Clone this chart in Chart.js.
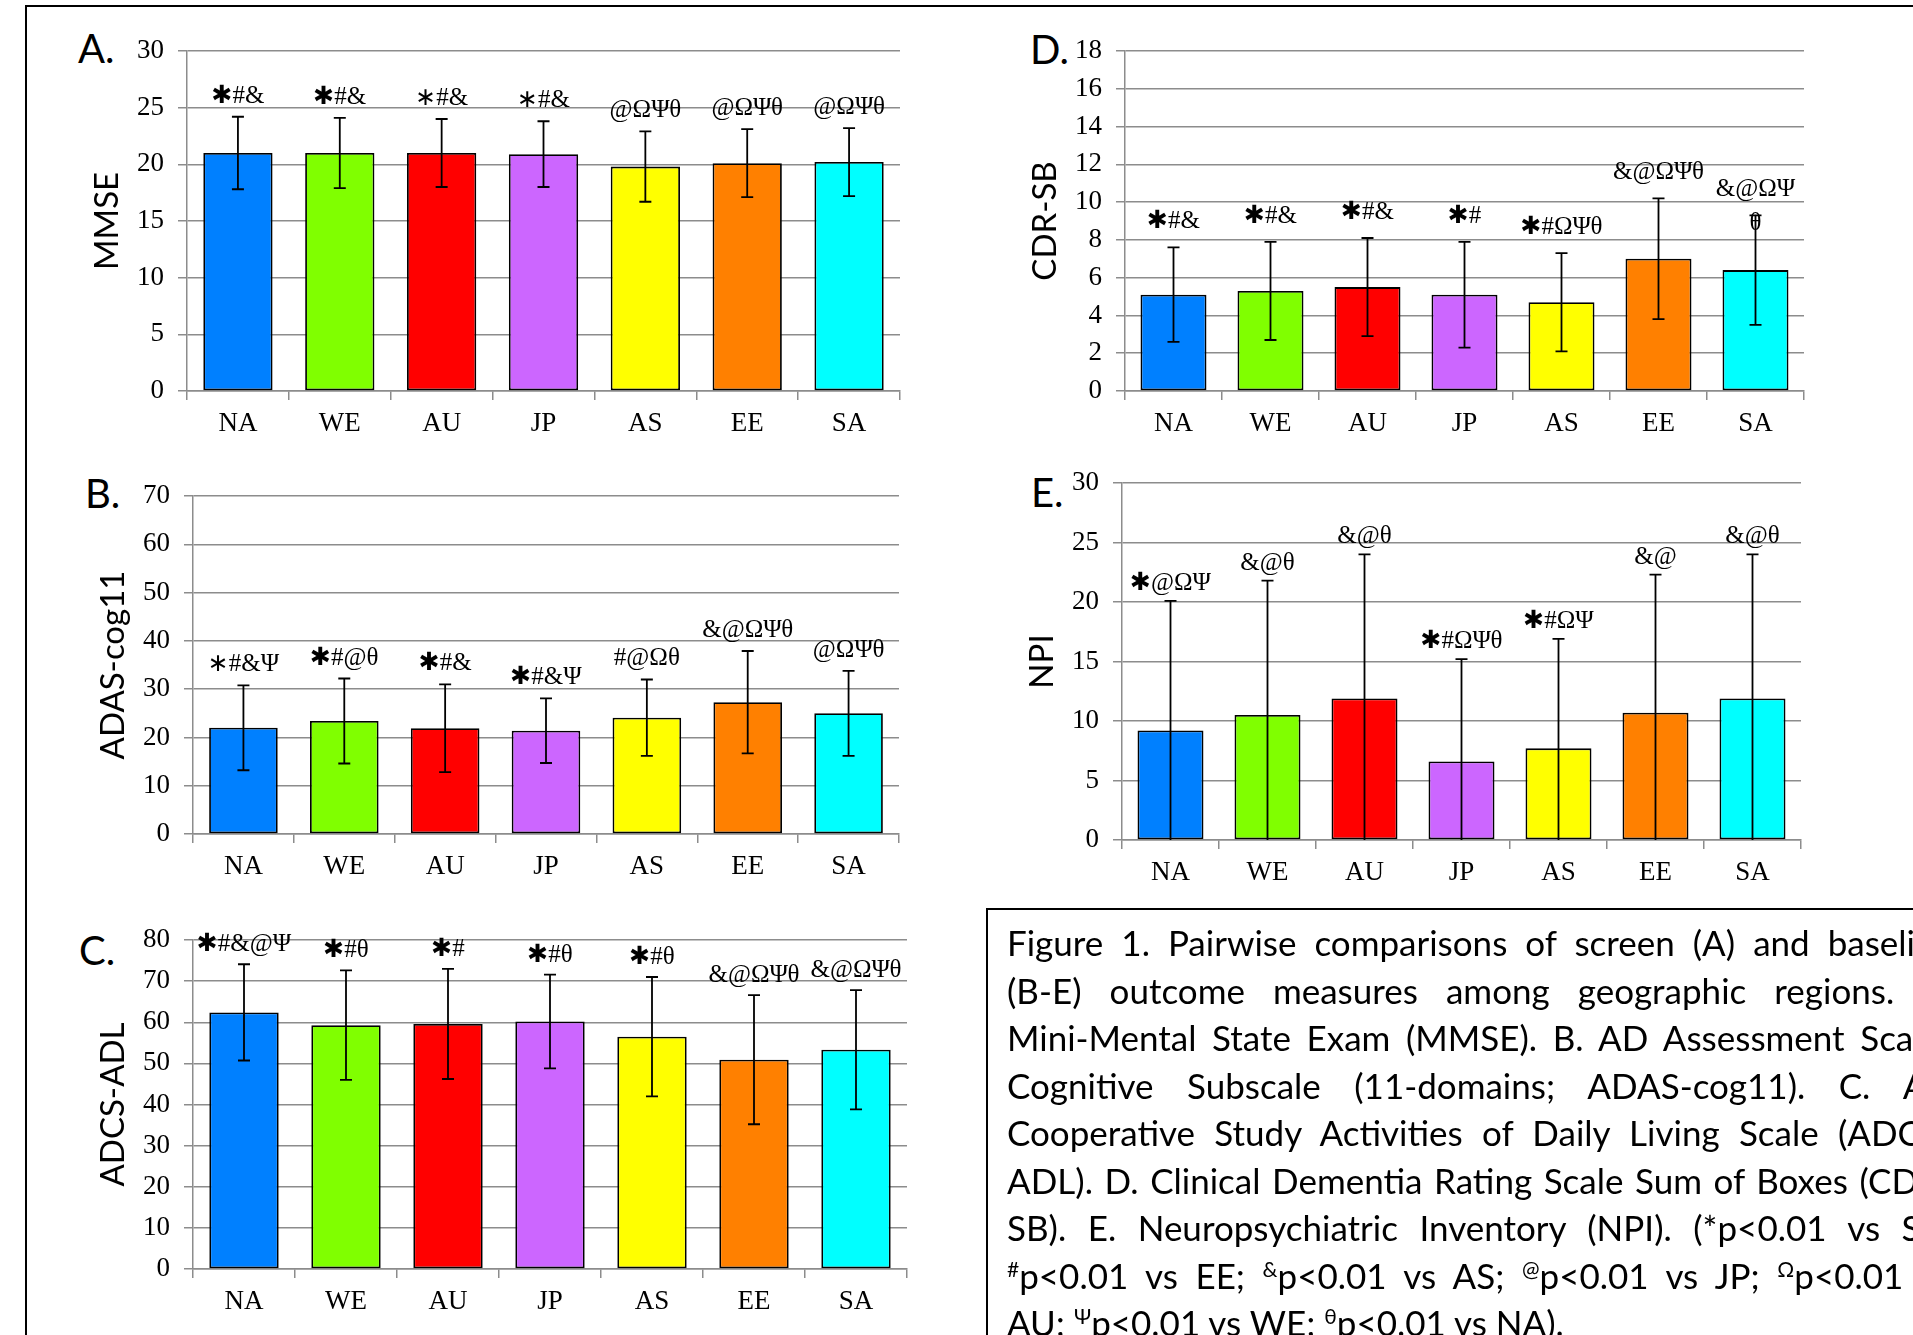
<!DOCTYPE html>
<html lang="en">
<head>
  <meta charset="UTF-8">
  <title>Figure 1 - regional comparisons</title>
  <script src="https://cdn.jsdelivr.net/npm/chart.js"></script>
  <style>
    html, body { margin: 0; padding: 0; background: #fff; }
    body { width: 1913px; height: 1335px; overflow: hidden; position: relative; }
    #frame { position: absolute; left: 25px; top: 5px; width: 3000px; height: 3000px;
             border-top: 2px solid #000; border-left: 2px solid #000; }
    canvas { position: absolute; }
    .plabel { position: absolute; font-family: Lato, "Open Sans", sans-serif; font-size: 40px;
              line-height: 40px; color: #000; }
    #caption { position: absolute; left: 986px; top: 908px; width: 990px; height: 600px;
               border: 2px solid #000; box-sizing: border-box; padding: 9px 0 0 19px;
               font-family: Lato, "Open Sans", sans-serif; font-size: 35px; line-height: 47.5px; color: #000; }
    #caption .ln { width: 946px; height: 47.5px; text-align: justify; text-align-last: justify; }
    #caption .ln.last { text-align-last: left; }
    #caption sup { font-size: 0.6em; vertical-align: 0; position: relative; top: -0.55em; }
  </style>
</head>
<body>
  <div id="frame"></div>

  <div class="plabel" style="left:78px; top:28px;">A.</div>
  <div class="plabel" style="left:85px; top:473px;">B.</div>
  <div class="plabel" style="left:79px; top:930px;">C.</div>
  <div class="plabel" style="left:1030px; top:29px;">D.</div>
  <div class="plabel" style="left:1031px; top:472px;">E.</div>

  <canvas id="chartA"></canvas>
  <canvas id="chartB"></canvas>
  <canvas id="chartC"></canvas>
  <canvas id="chartD"></canvas>
  <canvas id="chartE"></canvas>

  <div id="caption">
    <div class="ln">Figure 1. Pairwise comparisons of screen (A) and baseline</div>
    <div class="ln">(B-E) outcome measures among geographic regions. A.</div>
    <div class="ln">Mini-Mental State Exam (MMSE). B. AD Assessment Scale-</div>
    <div class="ln">Cognitive Subscale (11-domains; ADAS-cog11). C. AD</div>
    <div class="ln">Cooperative Study Activities of Daily Living Scale (ADCS-</div>
    <div class="ln">ADL). D. Clinical Dementia Rating Scale Sum of Boxes (CDR-</div>
    <div class="ln">SB). E. Neuropsychiatric Inventory (NPI). (*p&lt;0.01 vs SA;</div>
    <div class="ln"><sup>#</sup>p&lt;0.01 vs EE; <sup>&amp;</sup>p&lt;0.01 vs AS; <sup>@</sup>p&lt;0.01 vs JP; <sup>Ω</sup>p&lt;0.01 vs</div>
    <div class="ln last">AU; <sup>Ψ</sup>p&lt;0.01 vs WE; <sup>θ</sup>p&lt;0.01 vs NA).</div>
  </div>

  <script>
    // Regions and bar colours (same order in every panel)
    const regions = ['NA', 'WE', 'AU', 'JP', 'AS', 'EE', 'SA'];
    const regionColors = ['#0080ff', '#80ff00', '#ff0000', '#cc66ff', '#ffff00', '#ff8000', '#00ffff'];

    // A. MMSE (mean, SD)
    const mmseMean = [21.0, 21.0, 21.0, 20.9, 19.8, 20.1, 20.2];
    const mmseSD = [3.2, 3.1, 3.0, 2.9, 3.1, 3.0, 3.0];
    const mmseNotes = ['✱#&', '✱#&', '∗#&', '∗#&', '@ΩΨθ', '@ΩΨθ', '@ΩΨθ'];
    const mmseTicks = [0, 5, 10, 15, 20, 25, 30];

    // B. ADAS-cog11
    const adasMean = [22.0, 23.4, 21.9, 21.4, 24.1, 27.3, 25.0];
    const adasSD = [8.8, 8.8, 9.1, 6.7, 7.9, 10.6, 8.8];
    const adasNotes = ['∗#&Ψ', '✱#@θ', '✱#&', '✱#&Ψ', '#@Ωθ', '&@ΩΨθ', '@ΩΨθ'];
    const adasTicks = [0, 10, 20, 30, 40, 50, 60, 70];

    // C. ADCS-ADL
    const adlMean = [62.4, 59.3, 59.6, 60.2, 56.5, 50.9, 53.3];
    const adlSD = [11.7, 13.3, 13.4, 11.4, 14.5, 15.7, 14.5];
    const adlNotes = ['✱#&@Ψ', '✱#θ', '✱#', '✱#θ', '✱#θ', '&@ΩΨθ', '&@ΩΨθ'];
    const adlTicks = [0, 10, 20, 30, 40, 50, 60, 70, 80];

    // D. CDR-SB
    const cdrMean = [5.1, 5.3, 5.5, 5.1, 4.7, 7.0, 6.4];
    const cdrSD = [2.5, 2.6, 2.6, 2.8, 2.6, 3.2, 2.9];
    const cdrNotes = ['✱#&', '✱#&', '✱#&', '✱#', '✱#ΩΨθ', '&@ΩΨθ', '&@ΩΨ\nθ'];
    const cdrTicks = [0, 2, 4, 6, 8, 10, 12, 14, 16, 18];

    // E. NPI
    const npiMean = [9.2, 10.5, 11.9, 6.6, 7.7, 10.7, 11.9];
    const npiSD = [10.9, 11.3, 12.1, 8.6, 9.2, 11.6, 12.1];
    const npiNotes = ['✱@ΩΨ', '&@θ', '&@θ', '✱#ΩΨθ', '✱#ΩΨ', '&@', '&@θ'];
    const npiTicks = [0, 5, 10, 15, 20, 25, 30];

    const GRID = '#8c8c8c';
    const Y_AXIS_W = 130, X_AXIS_H = 70, PAD_TOP = 45, PAD_RIGHT = 20;

    // Error bars (mean +/- SD, clipped at the axis) and significance marks
    const barExtras = {
      id: 'barExtras',
      afterDatasetsDraw(chart) {
        const ctx = chart.ctx;
        const ds = chart.data.datasets[0];
        const meta = chart.getDatasetMeta(0);
        const y = chart.scales.y;
        ctx.save();
        ctx.strokeStyle = '#000';
        ctx.lineWidth = 1.8;
        ctx.fillStyle = '#000';
        ctx.font = '25px "Liberation Serif", "DejaVu Sans", serif';
        ctx.textAlign = 'center';
        ctx.textBaseline = 'alphabetic';
        meta.data.forEach((bar, i) => {
          const hi = ds.data[i] + ds.sd[i];
          const lo = ds.data[i] - ds.sd[i];
          const yHi = y.getPixelForValue(hi);
          const yLo = y.getPixelForValue(Math.max(lo, y.min));
          ctx.beginPath();
          ctx.moveTo(bar.x, yHi);
          ctx.lineTo(bar.x, yLo);
          ctx.moveTo(bar.x - 6, yHi);
          ctx.lineTo(bar.x + 6, yHi);
          if (lo >= y.min) {
            ctx.moveTo(bar.x - 6, yLo);
            ctx.lineTo(bar.x + 6, yLo);
          }
          ctx.stroke();
          // wrapped marks run downwards from the first line, like a text box
          ds.notes[i].split('\n').forEach((t, k) => ctx.fillText(t, bar.x, yHi - ds.noteGap + k * 34));
        });
        ctx.restore();
      }
    };

    function makePanel(id, area, title, means, sds, notes, ticks, noteGap) {
      const canvas = document.getElementById(id);
      const w = area.R - area.L + Y_AXIS_W + PAD_RIGHT;
      const h = area.B - area.T + PAD_TOP + X_AXIS_H;
      canvas.width = w;
      canvas.height = h;
      canvas.style.left = (area.L - Y_AXIS_W) + 'px';
      canvas.style.top = (area.T - PAD_TOP) + 'px';
      canvas.style.width = w + 'px';
      canvas.style.height = h + 'px';

      new Chart(canvas.getContext('2d'), {
        type: 'bar',
        data: {
          labels: regions,
          datasets: [{
            data: means,
            sd: sds,
            notes: notes,
            noteGap: noteGap,
            backgroundColor: regionColors,
            borderColor: '#000',
            borderWidth: 1.8,
            borderSkipped: false,
            categoryPercentage: 1.0,
            barPercentage: 0.68
          }]
        },
        options: {
          responsive: false,
          animation: false,
          devicePixelRatio: 1,
          layout: { autoPadding: false, padding: { top: PAD_TOP, right: PAD_RIGHT, left: 0, bottom: 0 } },
          plugins: { legend: { display: false }, tooltip: { enabled: false } },
          scales: {
            x: {
              afterFit: (s) => { s.height = X_AXIS_H; },
              grid: { drawOnChartArea: false, drawTicks: true, tickLength: 9, color: GRID, lineWidth: 1.5 },
              border: { display: true, color: GRID, width: 1.5 },
              ticks: { color: '#000', padding: 8, maxRotation: 0, autoSkip: false,
                       font: { family: '"Liberation Serif", serif', size: 27 } }
            },
            y: {
              min: ticks[0],
              max: ticks[ticks.length - 1],
              afterFit: (s) => { s.width = Y_AXIS_W; },
              grid: { color: GRID, lineWidth: 1.5, tickLength: 9, drawTicks: true },
              border: { display: true, color: GRID, width: 1.5 },
              ticks: { stepSize: ticks[1] - ticks[0], color: '#000', padding: 14,
                       font: { family: '"Liberation Serif", serif', size: 27 } },
              title: { display: true, text: title, color: '#000', padding: { top: 31, bottom: 0 },
                       font: { family: 'Lato, "Open Sans", sans-serif', size: 33, lineHeight: 1.2 } }
            }
          }
        },
        plugins: [barExtras]
      });
    }

    makePanel('chartA', { L: 187, R: 900, T: 51, B: 391 }, 'MMSE', mmseMean, mmseSD, mmseNotes, mmseTicks, 14);
    makePanel('chartB', { L: 193, R: 899, T: 496, B: 834 }, 'ADAS-cog11', adasMean, adasSD, adasNotes, adasTicks, 14);
    makePanel('chartC', { L: 193, R: 907, T: 940, B: 1269 }, 'ADCS-ADL', adlMean, adlSD, adlNotes, adlTicks, 13);
    makePanel('chartD', { L: 1125, R: 1804, T: 51, B: 391 }, 'CDR-SB', cdrMean, cdrSD, cdrNotes, cdrTicks, 19);
    makePanel('chartE', { L: 1122, R: 1801, T: 483, B: 840 }, 'NPI', npiMean, npiSD, npiNotes, npiTicks, 11);
  </script>
</body>
</html>
